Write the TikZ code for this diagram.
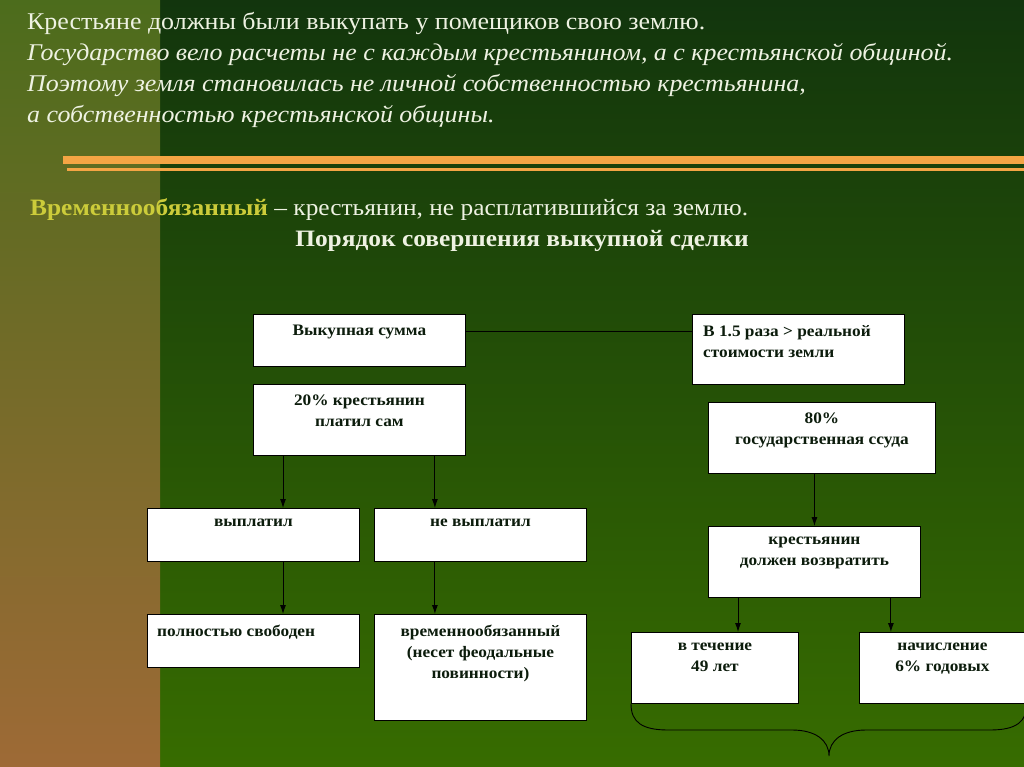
\documentclass[tikz,border=0pt]{standalone}
\usepackage{fontspec}
\setmainfont{Liberation Serif}[FakeStretch=1.08]
\usetikzlibrary{arrows.meta}

\definecolor{bgtop}{HTML}{12350D}
\definecolor{bgbot}{HTML}{376C00}
\definecolor{striptop}{HTML}{4C6C1C}
\definecolor{stripbot}{HTML}{9E6A36}
\definecolor{bar}{HTML}{F4A544}
\definecolor{chalk}{HTML}{EEF2E2}
\definecolor{term}{HTML}{CCCC3A}
\definecolor{ink}{HTML}{0C1C0C}

\begin{document}
\begin{tikzpicture}[x=1pt,y=-1pt,
  head/.style={anchor=base west, inner sep=0pt, text=chalk, font=\fontsize{24}{28}\selectfont},
  box/.style={draw=black, fill=white, line width=0.9pt, anchor=north west, inner sep=0pt},
  txt/.style={anchor=north, inner sep=0pt, align=center, text=ink, font=\bfseries\fontsize{16}{21}\selectfont},
  arr/.style={-{Latex[length=9pt,width=6pt]}, line width=0.9pt}]

\useasboundingbox (0,0) rectangle (1024,767);
\shade[top color=bgtop, bottom color=bgbot] (0,0) rectangle (1024,767); % slide
\shade[top color=striptop, bottom color=stripbot] (0,0) rectangle (160,767); % left strip

\fill[bar] (63,156) rectangle (1024,164);
\fill[bar] (67,168) rectangle (1024,171);

% intro text
\node[head] (l1) at (27,30) {Крестьяне должны были выкупать у помещиков свою землю.};
\node[head, font=\itshape\fontsize{24}{28}\selectfont] (l2) at (27,61) {Государство вело расчеты не с каждым крестьянином, а с крестьянской общиной.};
\node[head, font=\itshape\fontsize{24}{28}\selectfont] (l3) at (27,92) {Поэтому земля становилась не личной собственностью крестьянина,};
\node[head, font=\itshape\fontsize{24}{28}\selectfont] (l4) at (27,123) {а собственностью крестьянской общины.};

\node[head, font=\fontsize{23.5}{28}\selectfont] (def) at (30,215) {\textcolor{term}{\bfseries Временнообязанный} – крестьянин, не расплатившийся за землю.};
\node[head, anchor=base, font=\bfseries\fontsize{23.5}{28}\selectfont] (ttl) at (522,247) {Порядок совершения выкупной сделки};

% boxes
\node[box, minimum width=212pt, minimum height=52pt] (sum) at (253,314) {};
\node[box, minimum width=212pt, minimum height=70pt] (ratio) at (692,314) {};
\node[box, minimum width=212pt, minimum height=71pt] (self) at (253,384) {};
\node[box, minimum width=227pt, minimum height=71pt] (loan) at (708,402) {};
\node[box, minimum width=212pt, minimum height=53pt] (paid) at (147,508) {};
\node[box, minimum width=212pt, minimum height=53pt] (unpaid) at (374,508) {};
\node[box, minimum width=212pt, minimum height=71pt] (repay) at (708,526) {};
\node[box, minimum width=212pt, minimum height=53pt] (free) at (147,614) {};
\node[box, minimum width=212pt, minimum height=106pt] (bound) at (374,614) {};
\node[box, minimum width=167pt, minimum height=71pt] (years) at (631,632) {};
\node[box, minimum width=170pt, minimum height=71pt] (rate) at (859,632) {};

% box texts
\node[txt] (sumt) at ([yshift=-11pt]sum.north) {Выкупная сумма};
\node[txt, anchor=north west, align=left] (ratiot) at ([xshift=11pt,yshift=-11pt]ratio.north west) {В 1.5 раза > реальной\\стоимости земли};
\node[txt] (selft) at ([yshift=-11pt]self.north) {20\% крестьянин\\платил сам};
\node[txt] (loant) at ([yshift=-11pt]loan.north) {80\%\\государственная ссуда};
\node[txt] (paidt) at ([yshift=-11pt]paid.north) {выплатил};
\node[txt] (unpaidt) at ([yshift=-11pt]unpaid.north) {не выплатил};
\node[txt] (repayt) at ([yshift=-11pt]repay.north) {крестьянин\\должен возвратить};
\node[txt, anchor=north west, align=left] (freet) at ([xshift=10pt,yshift=-11pt]free.north west) {полностью свободен};
\node[txt] (boundt) at ([yshift=-11pt]bound.north) {временнообязанный\\(несет феодальные\\повинности)};
\node[txt] (yearst) at ([yshift=-11pt]years.north) {в течение\\49 лет};
\node[txt] (ratet) at ([yshift=-11pt,xshift=-2pt]rate.north) {начисление\\6\% годовых};

% connectors
\coordinate (h1) at ([yshift=-17pt]sum.north east);
\draw[line width=0.9pt] (h1) -- (h1 -| ratio.west);

\coordinate (a1) at ([xshift=30pt]self.south west);
\coordinate (a2) at ([xshift=-31pt]self.south east);
\draw[arr] (a1) -- (a1 |- paid.north);
\draw[arr] (a2) -- (a2 |- unpaid.north);
\draw[arr] (a1 |- paid.south) -- (a1 |- free.north);
\draw[arr] (a2 |- unpaid.south) -- (a2 |- bound.north);

\draw[arr] (loan.south -| repay.north) -- (repay.north);
\coordinate (a3) at ([xshift=30pt]repay.south west);
\coordinate (a4) at ([xshift=-30pt]repay.south east);
\draw[arr] (a3) -- (a3 |- years.north);
\draw[arr] (a4) -- (a4 |- rate.north);

% brace
\draw[line width=0.9pt] (years.south west) .. controls (631,722) and (642,730) .. (668,730)
  -- (792,730) .. controls (815,730) and (829,740) .. (829,756)
  .. controls (829,740) and (843,730) .. (866,730)
  -- (990,730) .. controls (1016,730) and (1027,722) .. (1027,703);
\end{tikzpicture}
\end{document}
